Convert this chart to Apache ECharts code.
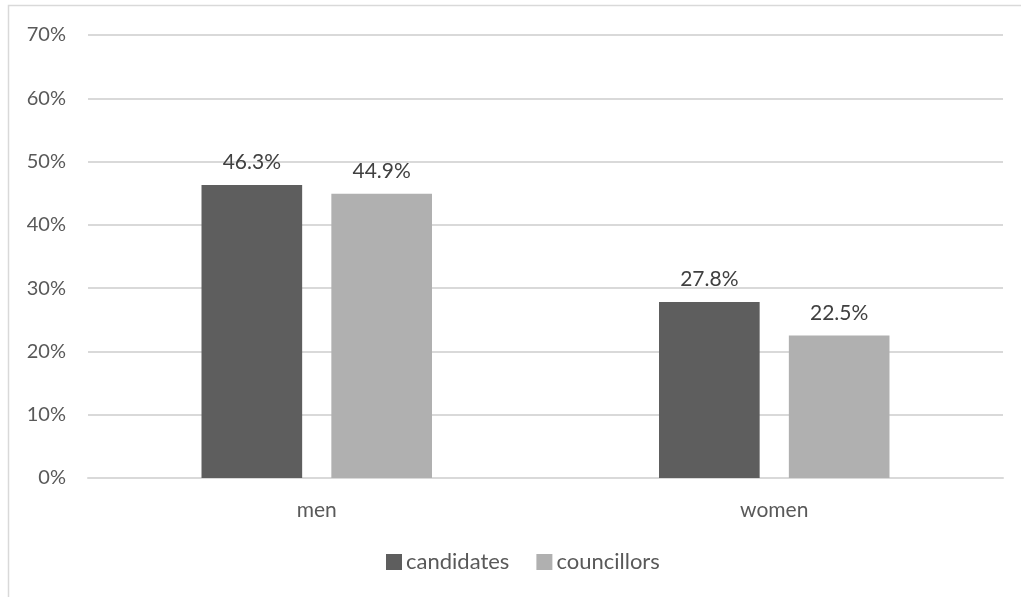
<!DOCTYPE html>
<html><head><meta charset="utf-8">
<script src="https://cdn.jsdelivr.net/npm/echarts@6/dist/echarts.min.js"></script>
<style>html,body{margin:0;padding:0;background:#fff}#c{width:1021px;height:597px}</style>
</head><body><div id="c"></div>
<script>
const categories = ["men", "women"];
const seriesNames = ["candidates", "councillors"];
const candidates = [46.3, 27.8];
const councillors = [44.9, 22.5];
const yTicks = [0, 10, 20, 30, 40, 50, 60, 70];

const chart = echarts.init(document.getElementById('c'), null, {renderer: 'canvas'});
const FONT = 'Lato';
const labelCfg = {show: true, position: 'top', distance: 12, color: '#404040', fontSize: 21, fontFamily: FONT, formatter: p => p.value.toFixed(1) + '%'};
chart.setOption({
  backgroundColor: '#fff',
  animation: false,
  graphic: [{type: 'rect', shape: {x: 8.5, y: 5.5, width: 1100, height: 700}, style: {fill: 'none', stroke: '#d9d9d9', lineWidth: 1.5}, silent: true, z: -1}],
  grid: {left: 88, right: 18, top: 35, bottom: 119, containLabel: false},
  legend: {data: seriesNames, bottom: 19, left: 381, itemWidth: 16, itemHeight: 16, itemGap: 27, icon: 'rect',
    textStyle: {color: '#595959', fontSize: 22, fontFamily: FONT, padding: [0,0,0,-1]}},
  xAxis: {type: 'category', data: categories,
    axisLine: {lineStyle: {color: '#d9d9d9', width: 2}}, axisTick: {show: false},
    axisLabel: {color: '#595959', fontSize: 21, fontFamily: FONT, margin: 22}},
  yAxis: {type: 'value', min: yTicks[0], max: yTicks[yTicks.length-1], interval: 10,
    axisLine: {show: false}, axisTick: {show: false},
    splitLine: {lineStyle: {color: '#d9d9d9', width: 2}},
    axisLabel: {color: '#595959', fontSize: 20, fontFamily: FONT, margin: 22, formatter: v => v + '%'}},
  series: [
    {name: seriesNames[0], type: 'bar', data: candidates, barWidth: '22%', barGap: '29%', itemStyle: {color: '#5e5e5e'}, label: labelCfg},
    {name: seriesNames[1], type: 'bar', data: councillors, barWidth: '22%', itemStyle: {color: '#b0b0b0'}, label: labelCfg}
  ]
});
</script></body></html>
